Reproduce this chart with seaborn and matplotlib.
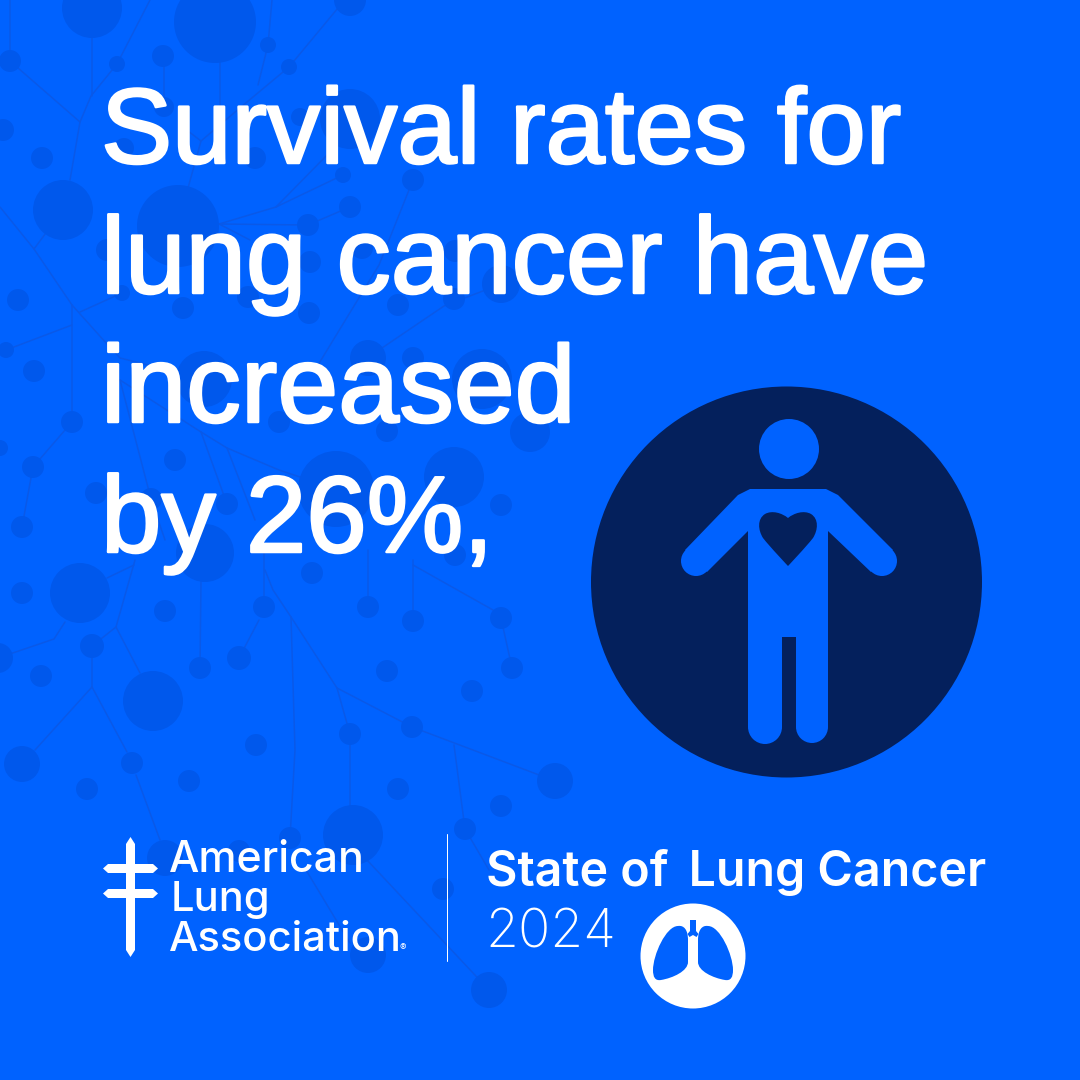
import matplotlib
matplotlib.use("Agg")
import matplotlib.pyplot as plt
from matplotlib.patches import Circle, PathPatch, Polygon
from matplotlib.path import Path
import matplotlib.patheffects as pe
import numpy as np
import pandas as pd
import seaborn as sns

# text
headline = ["Survival rates for", "lung cancer have", "increased", "by 26%,"]
logo_lines = ["American", "Lung", "Association"]
report_name = "State of\u2009 Lung Cancer"
report_year = "2024"

# background network in pixels
node_x = [92, 215, 10, 117, 163, 268, 289, 350, 63, 178, 42, 255, 343, 413, 350, 308, 3, 124, 164, 350, 300,
          362, 310, 107, 455, 501, 454, 398, 309, 248, 183, 122, 18, 6, 34, 72, 33, 22, 0, 96, 175, 279, 387,
          368, 413, 482, 204, 530, 336, 454, 501, 227, 151, 205, 80, 22, 312, 165, 264, 368, 413, 501, 512,
          472, 387, 239, 200, 92, 41, 153, -2, 22, 132, 87, 189, 256, 350, 412, 555, 398, 501, 465, 353, 290,
          239, 165, 443, 368, 489, 455]
node_y = [8, 22, 61, 64, 56, 45, 67, 0, 210, 226, 158, 158, 175, 180, 207, 225, 130, 148, 107, 119, 117,
          248, 262, 250, 251, 284, 299, 305, 313, 297, 308, 293, 300, 350, 371, 422, 467, 527, 448, 493, 460,
          422, 431, 358, 358, 379, 379, 432, 489, 477, 505, 504, 499, 553, 593, 593, 573, 611, 607, 607, 621,
          618, 668, 691, 671, 658, 668, 646, 676, 701, 658, 764, 763, 789, 781, 745, 734, 727, 781, 789, 806,
          829, 835, 838, 851, 858, 889, 955, 990, 555]
node_r = [30, 41, 11, 8, 11, 8, 8, 16, 30, 41, 11, 11, 8, 11, 11, 11, 11, 10, 10, 30, 9,
          11, 11, 11, 11, 19, 11, 11, 11, 11, 11, 8, 11, 8, 11, 11, 11, 11, 8, 11, 11,
          11, 11, 18, 11, 30, 28, 20, 38, 30, 11, 11, 11, 29, 30, 11, 11, 11, 11, 11, 11,
          11, 11, 11, 11, 12, 11, 12, 11, 30, 15, 18, 11, 11, 11, 11, 11, 11, 18, 11, 11,
          11, 30, 11, 11, 18, 11, 18, 18, 11]

branches = [
    [(10, 0), (10, 61), (80, 122), (91, 96), (117, 64), (150, 0)],
    [(92, 38), (92, 96)],
    [(80, 122), (70, 180)],
    [(63, 210), (34, 249)],
    [(0, 207), (34, 249), (72, 305), (107, 344), (120, 358), (204, 379)],
    [(72, 305), (72, 422), (33, 467), (22, 527)],
    [(72, 325), (6, 350)],
    [(80, 312), (122, 293)],
    [(120, 380), (151, 499), (165, 540)],
    [(120, 380), (201, 432), (227, 448), (279, 470), (336, 489)],
    [(201, 432), (227, 504)],
    [(227, 448), (255, 520)],
    [(164, 56), (164, 107)],
    [(220, 60), (220, 107)],
    [(179, 124), (201, 141), (241, 107), (289, 67), (338, 8)],
    [(272, 0), (268, 45), (258, 85)],
    [(201, 141), (188, 188)],
    [(331, 151), (276, 207), (219, 224), (308, 225), (350, 207)],
    [(343, 175), (276, 207)],
    [(219, 224), (250, 240)],
    [(413, 180), (379, 265), (318, 365)],
    [(501, 284), (444, 306), (382, 348)],
    [(-2, 658), (54, 639), (65, 622)],
    [(107, 578), (134, 565)],
    [(135, 560), (116, 627), (92, 646), (92, 687), (35, 750)],
    [(116, 627), (140, 673)],
    [(92, 687), (127, 752)],
    [(136, 775), (160, 840)],
    [(201, 581), (200, 668)],
    [(264, 550), (264, 607)],
    [(239, 658), (259, 620)],
    [(265, 570), (273, 590), (291, 617), (337, 688), (412, 727), (555, 781)],
    [(291, 617), (295, 750), (290, 838)],
    [(337, 688), (350, 734), (350, 835)],
    [(454, 745), (465, 829), (489, 870)],
    [(367, 860), (489, 990)],
    [(306, 870), (350, 943)],
    [(368, 550), (368, 607)],
    [(413, 560), (413, 621)],
    [(413, 565), (493, 610), (501, 618), (512, 668)],
]

edges = pd.DataFrame(
    [(i, x, y) for i, branch in enumerate(branches) for x, y in branch],
    columns=["branch", "x", "y"],
)

BLUE = "#0062FF"
NODE = "#0058EC"
LINE = "#0A59E8"
NAVY = "#04205C"
PX = 0.72  # points per pixel at 100 dpi

sns.set_theme(style="white")
plt.rcParams["font.family"] = ["Inter", "Liberation Sans", "DejaVu Sans"]

fig = plt.figure(figsize=(10.8, 10.8), dpi=100, facecolor=BLUE)
ax = fig.add_axes([0, 0, 1, 1])
ax.set_facecolor(BLUE)

sizes = {r: (2 * r * PX) ** 2 for r in set(node_r)}
sns.lineplot(data=edges, x="x", y="y", units="branch", estimator=None, sort=False,
             color=LINE, linewidth=1.5 * PX, legend=False, ax=ax, zorder=1)
sns.scatterplot(x=node_x, y=node_y, size=node_r, sizes=sizes, color=NODE, linewidth=0,
                legend=False, ax=ax, zorder=2)

ax.set_xlim(0, 1080)
ax.set_ylim(1080, 0)
ax.axis("off")

# headline, Liberation has the right widths but needs a thin stroke for the weight
thicken = [pe.withStroke(linewidth=1.8, foreground="white")]
for line, base, fs in zip(headline, [163, 293, 422, 552], [76.8, 78.2, 78.8, 78.2]):
    ax.text(101, base, line, color="white", fontsize=fs, family="Liberation Sans", va="baseline",
            ha="left", zorder=5, path_effects=thicken)

# person icon
ax.add_patch(Circle((786.5, 582), 195.5, color=NAVY, lw=0, zorder=3))
ax.add_patch(Circle((789, 449), 30, color=BLUE, lw=0, zorder=4))
body = [(750, 489), (826, 489), (838, 495), (893, 550), (871, 572), (828, 531), (828, 727), (796, 727),
        (796, 637), (782, 637), (782, 727), (748, 727), (748, 531), (707, 572), (685, 550), (738, 495)]
ax.add_patch(Polygon(body, closed=True, color=BLUE, lw=0, zorder=4))
for c, r in [((696, 561), 15), ((882, 561), 15), ((765, 727), 17), ((812, 727), 16)]:
    ax.add_patch(Circle(c, r, color=BLUE, lw=0, zorder=4))
heart = Path(
    [(788, 518), (782, 513), (772, 510), (765, 514), (757, 519), (758, 530), (763, 538),
     (770, 547), (788, 566), (788, 566), (788, 566), (806, 547), (813, 538), (818, 530), (819, 519),
     (811, 514), (804, 510), (794, 513), (788, 518)],
    [Path.MOVETO] + [Path.CURVE4] * 18,
)
ax.add_patch(PathPatch(heart, facecolor=NAVY, lw=0, zorder=5))

# logo cross
cross = [
    [(130.5, 837), (135, 844), (135, 950), (130.5, 957), (126, 950), (126, 844)],
    [(103, 868.5), (108, 864), (153, 864), (158, 868.5), (153, 873), (108, 873)],
    [(103, 893.5), (108, 889), (153, 889), (158, 893.5), (153, 898), (108, 898)],
]
for part in cross:
    ax.add_patch(Polygon(part, closed=True, color="white", lw=0, zorder=5))

for line, x0, base, fs in zip(logo_lines, [169, 171, 169], [872, 911, 951], [30.8, 30, 30]):
    ax.text(x0, base, line, color="white", fontsize=fs, fontweight=500, va="baseline", zorder=5)
ax.text(400, 951, "®", color="white", fontsize=7, va="baseline", zorder=5)

ax.plot([446.5, 446.5], [834, 961], color="white", lw=1 * PX, zorder=5)

ax.text(486, 886, report_name, color="white", fontsize=34.8, fontweight=600, va="baseline", zorder=5)
ax.text(485, 947, report_year, color="white", fontsize=38.5, fontweight=200, va="baseline", zorder=5)

# lungs badge
ax.add_patch(Circle((693, 956), 52.5, color="white", lw=0, zorder=5))
lung_dx = [15, 9, 5, 5, 5, 5, 5, 5, 20, 32, 38, 40, 40, 40, 27, 15]
lung_y = [926, 925, 930, 940, 947, 955, 962, 971, 978, 980, 981, 977, 970, 955, 926, 926]
for side in (-1, 1):
    lung = Path([(693 + side * dx, y) for dx, y in zip(lung_dx, lung_y)], [Path.MOVETO] + [Path.CURVE4] * 15)
    ax.add_patch(PathPatch(lung, facecolor=BLUE, lw=0, zorder=6))
trachea = [(690, 920), (696, 920), (696, 931), (698.5, 934), (696.5, 937), (693, 935), (689.5, 937),
           (687.5, 934), (690, 931)]
ax.add_patch(Polygon(trachea, closed=True, color=BLUE, lw=0, zorder=6))

fig.savefig("out.png", dpi=100, facecolor=BLUE)
